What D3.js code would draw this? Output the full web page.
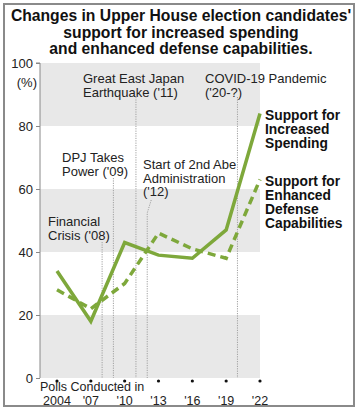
<!DOCTYPE html>
<html><head><meta charset="utf-8">
<script src="https://cdn.jsdelivr.net/npm/d3@7"></script>
<style>
body{margin:0;background:#fff;}
text{font-family:"Liberation Sans",Arial,sans-serif;}
</style></head>
<body><svg id="c" width="358" height="409"></svg>
<script>
const years = [2004, 2007, 2010, 2013, 2016, 2019, 2022];
const yearLabels = ["2004", "'07", "'10", "'13", "'16", "'19", "'22"];
const spending = [34, 18, 43, 39, 38, 47, 84];
const defense = [28, 22, 30, 46, 41, 38, 63];
const yTicks = [0, 20, 40, 60, 80, 100];
const titleLines = ["Changes in Upper House election candidates'", "support for increased spending", "and enhanced defense capabilities."];
const events = [
  {year: 2008, lines: ["Financial", "Crisis ('08)"]},
  {year: 2009, lines: ["DPJ Takes", "Power  ('09)"]},
  {year: 2011, lines: ["Great East Japan", "Earthquake ('11)"]},
  {year: 2012, lines: ["Start of 2nd Abe", "Administration", "('12)"]},
  {year: 2020, lines: ["COVID-19 Pandemic", "('20-?)"]}
];
const legend1 = ["Support for", "Increased", "Spending"];
const legend2 = ["Support for", "Enhanced", "Defense", "Capabilities"];

const svg = d3.select("#c");
const green = "#7ea83b";
const x = d3.scaleLinear().domain([2004, 2022]).range([57, 260]);
const y = d3.scaleLinear().domain([0, 100]).range([378, 63]);

// frame
svg.append("rect").attr("x", 4).attr("y", 4).attr("width", 350).attr("height", 402)
  .attr("fill", "none").attr("stroke", "#8a8a8a").attr("stroke-width", 2);

// title
svg.append("g").selectAll("text").data(titleLines).join("text")
  .attr("x", 181).attr("y", (d, i) => 21 + i * 16.5)
  .attr("text-anchor", "middle").attr("font-weight", "bold").attr("font-size", 15.7)
  .attr("fill", "#111").text(d => d);

// bands
const bands = [[80, 100], [40, 60], [0, 20]];
svg.append("g").selectAll("rect").data(bands).join("rect")
  .attr("x", 40).attr("width", 220)
  .attr("y", d => y(d[1])).attr("height", d => y(d[0]) - y(d[1]))
  .attr("fill", "#e8e8e8");

// y axis
const ya = svg.append("g").attr("transform", "translate(40,0)")
  .call(d3.axisLeft(y).tickValues(yTicks).tickSize(4).tickPadding(3));
ya.select(".domain").attr("stroke", "#888").attr("d", `M-4,${y(100)}H0V${y(0)}`);
ya.selectAll(".tick line").attr("stroke", "#888");
ya.selectAll(".tick text").attr("font-size", 13).attr("fill", "#222")
  .attr("font-family", "'Liberation Sans',Arial,sans-serif");
svg.append("text").attr("x", 37).attr("y", 87).attr("text-anchor", "end")
  .attr("font-size", 13).attr("fill", "#222").text("(%)");

// event lines
const tops = {2008: 242, 2009: 178, 2011: 97, 2012: 213, 2020: 97};
const dl = svg.append("g").attr("stroke", "#a0a0a0").attr("stroke-width", 1)
  .attr("stroke-dasharray", "1.2,1.2").attr("fill", "none");
events.forEach(e => {
  if (e.year === 2012) {
    dl.append("path").attr("d", `M${x(2012) + 4},200L${x(2012)},${tops[2012]}V${y(0)}`);
  } else {
    dl.append("path").attr("d", `M${x(e.year)},${tops[e.year]}V${y(0)}`);
  }
});

// event labels
const evPos = {2008: [48, 226], 2009: [62, 162], 2011: [83, 83], 2012: [143, 169], 2020: [205, 83]};
events.forEach(e => {
  const [tx, ty] = evPos[e.year];
  svg.append("g").selectAll("text").data(e.lines).join("text")
    .attr("x", tx).attr("y", (d, i) => ty + i * 13.5)
    .attr("font-size", 13).attr("fill", "#222").text(d => d);
});

// lines
const line = d3.line().x((d, i) => x(years[i])).y(d => y(d));
svg.append("path").datum(defense).attr("d", line).attr("fill", "none")
  .attr("stroke", green).attr("stroke-width", 3.5).attr("stroke-dasharray", "8,5");
svg.append("path").datum(spending).attr("d", line).attr("fill", "none")
  .attr("stroke", green).attr("stroke-width", 3.5);

// dots on x
svg.append("g").selectAll("circle").data(years).join("circle")
  .attr("cx", d => x(d)).attr("cy", 381).attr("r", 1.6).attr("fill", "#111");

// x labels
svg.append("text").attr("x", 40).attr("y", 391).attr("font-size", 12.5).attr("fill", "#222")
  .text("Polls Conducted in");
svg.append("g").selectAll("text").data(yearLabels).join("text")
  .attr("x", (d, i) => x(years[i])).attr("y", 404.5).attr("text-anchor", "middle")
  .attr("font-size", 12.5).attr("fill", "#222").text(d => d);

// legends
svg.append("g").selectAll("text").data(legend1).join("text")
  .attr("x", 265).attr("y", (d, i) => 120 + i * 14).attr("font-size", 13.8)
  .attr("font-weight", "bold").attr("fill", "#111").text(d => d);
svg.append("g").selectAll("text").data(legend2).join("text")
  .attr("x", 265).attr("y", (d, i) => 186 + i * 14).attr("font-size", 13.8)
  .attr("font-weight", "bold").attr("fill", "#111").text(d => d);
</script></body></html>
